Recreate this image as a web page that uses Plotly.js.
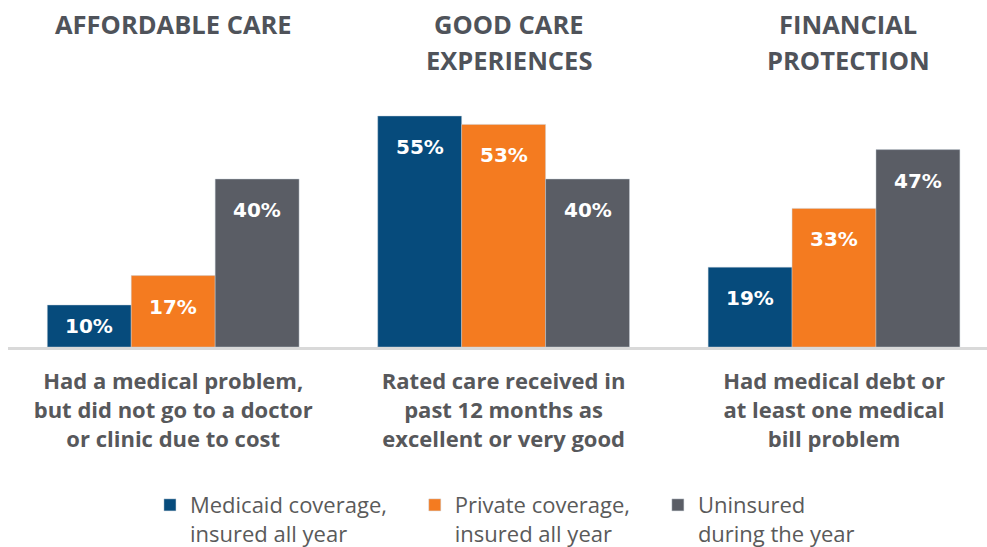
<!DOCTYPE html>
<html>
<head>
<meta charset="utf-8">
<script src="https://cdn.plot.ly/plotly-3.0.1.min.js"></script>
<style>html,body{margin:0;padding:0;background:#fff;}#chart{width:987px;height:547px;}</style>
</head>
<body>
<div id="chart"></div>
<script>
// ---- data ----
const categories = [
  "Had a medical problem,<br>but did not go to a doctor<br>or clinic due to cost",
  "Rated care received in<br>past 12 months as<br>excellent or very good",
  "Had medical debt or<br>at least one medical<br>bill problem"
];
const groupTitles = [
  ["AFFORDABLE CARE"],
  ["GOOD CARE", "EXPERIENCES"],
  ["FINANCIAL", "PROTECTION"]
];
const seriesNames = [
  ["Medicaid coverage,", "insured all year"],
  ["Private coverage,", "insured all year"],
  ["Uninsured", "during the year"]
];
const medicaid = [10, 55, 19];
const privateCov = [17, 53, 33];
const uninsured = [40, 40, 47];

// ---- style ----
const colors = ["#064b7c", "#f47b20", "#5a5d65"];
const titleGray = "#4f535a";
const labelGray = "#57585b";
const bargap = 0.238;
const yMax = 60;
const plotH = 252, marginT = 95, marginB = 200;
const pxPerUnit = plotH / yMax;
const legendPad = ["&nbsp;&nbsp;&nbsp;&nbsp;", "&nbsp;&nbsp;&nbsp;&nbsp;", ""];

const series = [medicaid, privateCov, uninsured];
const idx = categories.map((_, i) => i);

const traces = series.map((vals, s) => ({
  type: "bar",
  name: seriesNames[s][0] + legendPad[s] + "<br>" + seriesNames[s][1],
  x: idx,
  y: vals,
  marker: {color: colors[s], line: {width: 0.8, color: "rgba(200,208,218,0.55)"}},
  hoverinfo: "none"
}));

const barW = (1 - bargap) / series.length;
const annotations = [];
series.forEach((vals, s) => {
  vals.forEach((v, i) => {
    const shift = Math.min(31, v * pxPerUnit / 2);
    annotations.push({
      x: i + (s - (series.length - 1) / 2) * barW,
      y: v, xref: "x", yref: "y",
      text: v + "%", showarrow: false,
      yanchor: "middle", yshift: -shift,
      font: {family: "DejaVu Sans", size: 20, color: "#ffffff", weight: 700}
    });
  });
});
const titleShift = [0, 5, 14];
groupTitles.forEach((lines, i) => {
  lines.forEach((t, j) => {
    annotations.push({
      x: i, xref: "x", y: 1, yref: "paper",
      yanchor: "middle", xanchor: "center",
      yshift: (marginT - 24) - j * 36, xshift: titleShift[i],
      text: t, showarrow: false,
      font: {family: "Open Sans", size: 25.5, color: titleGray, weight: 700}
    });
  });
});

const layout = {
  width: 987, height: 547,
  margin: {l: 8, r: 0, t: marginT, b: marginB},
  paper_bgcolor: "#ffffff", plot_bgcolor: "#ffffff",
  barmode: "group", bargap: bargap, bargroupgap: 0,
  showlegend: true,
  legend: {
    orientation: "h", x: 0.145, xanchor: "left",
    yref: "container", y: 0.115, yanchor: "top",
    valign: "top", traceorder: "normal",
    font: {family: "Open Sans", size: 22, color: "#5a5a5a"},
    bgcolor: "rgba(0,0,0,0)"
  },
  xaxis: {
    type: "linear", range: [-0.5, 2.463],
    tickvals: idx, ticktext: categories,
    showline: true, linecolor: "#d9d9d9", linewidth: 3,
    ticks: "", showgrid: false, zeroline: false,
    ticklabelstandoff: 13,
    tickfont: {family: "Open Sans", size: 22, color: labelGray, weight: 700},
    fixedrange: true
  },
  yaxis: {
    range: [0, yMax], visible: false, showgrid: false, zeroline: false, fixedrange: true
  },
  annotations: annotations
};

Plotly.newPlot("chart", traces, layout, {displayModeBar: false, staticPlot: true});
</script>
</body>
</html>
